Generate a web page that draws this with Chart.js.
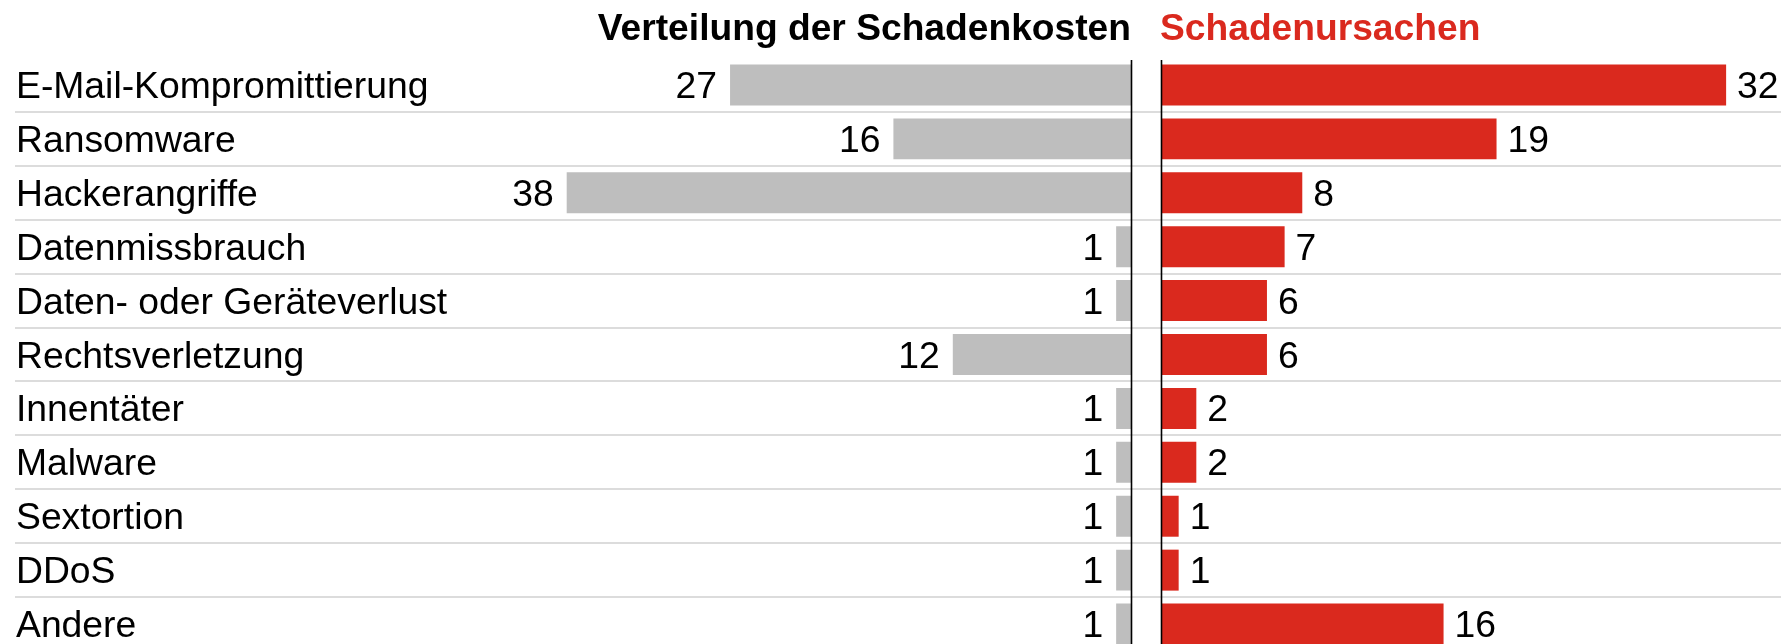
<!DOCTYPE html>
<html>
<head>
<meta charset="utf-8">
<script src="https://cdn.jsdelivr.net/npm/chart.js@4/dist/chart.umd.min.js"></script>
<style>
  html, body { margin: 0; padding: 0; background: #fff; overflow: hidden; }
  #wrap { position: relative; width: 1781px; height: 644px; overflow: hidden; }
  #left { position: absolute; left: 0; top: 0; }
  #right { position: absolute; left: 1146px; top: 0; }
</style>
</head>
<body>
<div id="wrap">
  <canvas id="left" width="1146" height="651"></canvas>
  <canvas id="right" width="635" height="651"></canvas>
</div>
<script>
const categories = ['E-Mail-Kompromittierung', 'Ransomware', 'Hackerangriffe', 'Datenmissbrauch',
  'Daten- oder Geräteverlust', 'Rechtsverletzung', 'Innentäter', 'Malware', 'Sextortion', 'DDoS', 'Andere'];
const schadenkosten = [27, 16, 38, 1, 1, 12, 1, 1, 1, 1, 1];
const schadenursachen = [32, 19, 8, 7, 6, 6, 2, 2, 1, 1, 16];
const titleLeft = 'Verteilung der Schadenkosten';
const titleRight = 'Schadenursachen';

const FONT = '"Liberation Sans", Arial, Helvetica, sans-serif';
const GRAY = '#bebebe';
const RED = '#da291e';
const SEP = '#dcdcdc';
const TEXT_FONT = '37.3px ' + FONT;
const TITLE_FONT = 'bold 37.2px ' + FONT;

function separators(x0) {
  return {
    id: 'separators',
    beforeDatasetsDraw(chart) {
      const ctx = chart.ctx, ys = chart.scales.y;
      ctx.save();
      ctx.strokeStyle = SEP;
      ctx.lineWidth = 2;
      for (let i = 1; i < categories.length; i++) {
        const y = Math.round((ys.getPixelForValue(i - 1) + ys.getPixelForValue(i)) / 2);
        ctx.beginPath();
        ctx.moveTo(x0, y);
        ctx.lineTo(chart.width, y);
        ctx.stroke();
      }
      ctx.restore();
    }
  };
}

function decorations(side, title, titleColor) {
  return {
    id: 'decorations',
    afterDatasetsDraw(chart) {
      const ctx = chart.ctx, area = chart.chartArea, ys = chart.scales.y;
      ctx.save();
      // axis line
      const lx = side === 'left' ? area.right + 0.5 : area.left + 0.5;
      ctx.strokeStyle = '#000';
      ctx.lineWidth = 1.6;
      ctx.beginPath();
      ctx.moveTo(lx, area.top + 2);
      ctx.lineTo(lx, chart.height);
      ctx.stroke();
      ctx.font = TEXT_FONT;
      ctx.fillStyle = '#000';
      ctx.textBaseline = 'alphabetic';
      // category labels (left side only)
      if (side === 'left') {
        ctx.textAlign = 'left';
        chart.data.labels.forEach((lab, i) => {
          ctx.fillText(lab, 16, ys.getPixelForValue(i) + 13);
        });
      }
      // value labels
      const meta = chart.getDatasetMeta(0);
      const vals = chart.data.datasets[0].data;
      meta.data.forEach((el, i) => {
        if (side === 'left') {
          ctx.textAlign = 'right';
          ctx.fillText(String(vals[i]), el.x - 13, el.y + 13);
        } else {
          ctx.textAlign = 'left';
          ctx.fillText(String(vals[i]), el.x + 11, el.y + 13);
        }
      });
      // title
      ctx.font = TITLE_FONT;
      ctx.fillStyle = titleColor;
      if (side === 'left') {
        ctx.textAlign = 'right';
        ctx.fillText(title, area.right, 40);
      } else {
        ctx.textAlign = 'left';
        ctx.fillText(title, area.left - 1, 40);
      }
      ctx.restore();
    }
  };
}

Chart.defaults.font.family = FONT;

new Chart(document.getElementById('left'), {
  type: 'bar',
  data: {
    labels: categories,
    datasets: [{ data: schadenkosten, backgroundColor: GRAY, borderWidth: 0,
      categoryPercentage: 1, barPercentage: 0.76 }]
  },
  options: {
    indexAxis: 'y',
    responsive: false,
    animation: false,
    devicePixelRatio: 1,
    layout: { padding: { top: 58, bottom: 0, left: 418.2, right: 15 } },
    plugins: { legend: { display: false }, tooltip: { enabled: false }, title: { display: false } },
    scales: {
      x: { type: 'linear', min: 0, max: 48, reverse: true, display: false },
      y: { type: 'category', display: false }
    }
  },
  plugins: [separators(15), decorations('left', titleLeft, '#000')]
});

new Chart(document.getElementById('right'), {
  type: 'bar',
  data: {
    labels: categories,
    datasets: [{ data: schadenursachen, backgroundColor: RED, borderWidth: 0,
      categoryPercentage: 1, barPercentage: 0.76 }]
  },
  options: {
    indexAxis: 'y',
    responsive: false,
    animation: false,
    devicePixelRatio: 1,
    layout: { padding: { top: 58, bottom: 0, left: 15, right: 1.9 } },
    plugins: { legend: { display: false }, tooltip: { enabled: false }, title: { display: false } },
    scales: {
      x: { type: 'linear', min: 0, max: 35, display: false },
      y: { type: 'category', display: false }
    }
  },
  plugins: [separators(0), decorations('right', titleRight, RED)]
});
</script>
</body>
</html>
